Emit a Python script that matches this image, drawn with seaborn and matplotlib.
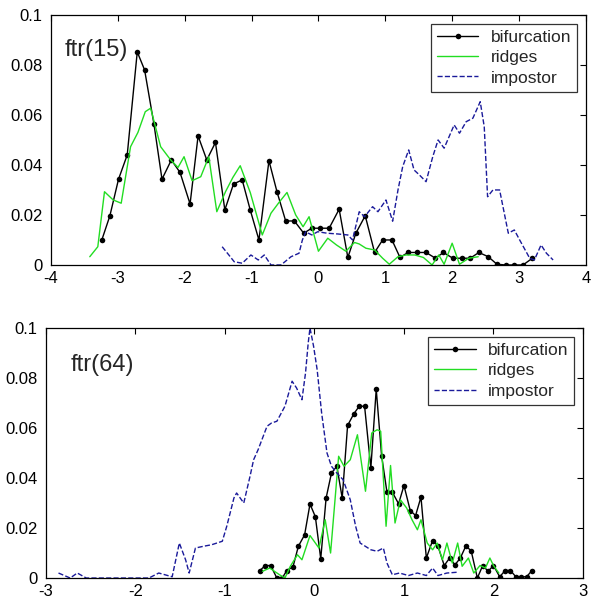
import seaborn as sns
import matplotlib
matplotlib.use("Agg")
import matplotlib.pyplot as plt

# ---- top panel: ftr(15) ----
top_bif_x = [-3.24, -3.12, -2.99, -2.86, -2.71, -2.60, -2.46, -2.34, -2.20, -2.07,
             -1.92, -1.80, -1.67, -1.54, -1.40, -1.27, -1.14, -1.02, -0.89, -0.74,
             -0.62, -0.49, -0.36, -0.22, -0.10, 0.03, 0.16, 0.31, 0.44, 0.56,
             0.70, 0.84, 0.96, 1.10, 1.22, 1.34, 1.48, 1.61, 1.75, 1.87,
             2.01, 2.15, 2.27, 2.40, 2.54, 2.67, 2.80, 2.93, 3.06, 3.20]
top_bif_y = [0.010, 0.0196, 0.0343, 0.044, 0.0852, 0.078, 0.0563, 0.0343, 0.042, 0.037,
             0.0244, 0.0516, 0.042, 0.049, 0.022, 0.0324, 0.034, 0.022, 0.010, 0.0417,
             0.0293, 0.0176, 0.0176, 0.0127, 0.0147, 0.0147, 0.0147, 0.0223, 0.003, 0.0127,
             0.0197, 0.005, 0.010, 0.010, 0.003, 0.005, 0.005, 0.005, 0.0027, 0.005,
             0.0027, 0.0027, 0.0027, 0.005, 0.0033, 0.0003, 0.0, 0.0, 0.0, 0.0027]

top_rid_x = [-3.42, -3.30, -3.20, -3.07, -2.95, -2.81, -2.70, -2.59, -2.51, -2.36,
             -2.21, -2.10, -2.01, -1.89, -1.76, -1.64, -1.52, -1.39, -1.28, -1.17,
             -1.02, -0.84, -0.71, -0.59, -0.47, -0.34, -0.23, -0.14, 0.0, 0.14,
             0.27, 0.41, 0.54, 0.61, 0.71, 0.84, 0.96, 1.06, 1.19, 1.31,
             1.44, 1.57, 1.70, 1.80, 1.88, 2.0, 2.11, 2.25, 2.39]
top_rid_y = [0.0033, 0.0073, 0.0293, 0.026, 0.0247, 0.0473, 0.053, 0.0613, 0.0627, 0.0473,
             0.042, 0.039, 0.0433, 0.0337, 0.0353, 0.0433, 0.0213, 0.0293, 0.035, 0.0397,
             0.029, 0.012, 0.0207, 0.025, 0.029, 0.020, 0.0153, 0.0193, 0.0055, 0.0107,
             0.008, 0.0055, 0.009, 0.0084, 0.0067, 0.006, 0.0027, 0.0003, 0.0033, 0.004,
             0.004, 0.003, 0.0, 0.004, 0.0003, 0.0087, 0.0003, 0.0027, 0.0033]

top_imp_x = [-1.44, -1.34, -1.26, -1.14, -1.01, -0.90, -0.81, -0.71, -0.56, -0.41,
             -0.29, -0.24, -0.19, -0.10, -0.01, 0.13, 0.29, 0.44, 0.51, 0.61,
             0.69, 0.81, 0.89, 1.01, 1.11, 1.19, 1.26, 1.35, 1.43, 1.51,
             1.61, 1.71, 1.79, 1.88, 2.03, 2.11, 2.21, 2.31, 2.42, 2.48,
             2.53, 2.61, 2.71, 2.84, 2.93, 3.01, 3.16, 3.23, 3.33, 3.41, 3.51]
top_imp_y = [0.0073, 0.004, 0.0013, 0.0007, 0.004, 0.002, 0.004, 0.0, 0.0, 0.0033,
             0.0047, 0.010, 0.0133, 0.012, 0.0133, 0.0127, 0.0124, 0.012, 0.010, 0.0213,
             0.0193, 0.0233, 0.0213, 0.026, 0.0175, 0.030, 0.0393, 0.046, 0.038, 0.036,
             0.0333, 0.0433, 0.050, 0.0467, 0.056, 0.0527, 0.0573, 0.0587, 0.0653, 0.0553,
             0.0273, 0.030, 0.030, 0.0127, 0.014, 0.010, 0.0027, 0.002, 0.008, 0.0047, 0.002]

# ---- bottom panel: ftr(64) ----
bot_bif_x = [-0.61, -0.55, -0.49, -0.42, -0.36, -0.31, -0.24, -0.18, -0.11, -0.05,
             0.01, 0.07, 0.13, 0.19, 0.25, 0.31, 0.37, 0.44, 0.50, 0.56,
             0.63, 0.69, 0.75, 0.81, 0.87, 0.94, 1.00, 1.07, 1.13, 1.19,
             1.25, 1.32, 1.38, 1.45, 1.51, 1.57, 1.63, 1.69, 1.75, 1.82,
             1.88, 1.94, 2.00, 2.07, 2.13, 2.19, 2.25, 2.31, 2.37, 2.43]
bot_bif_y = [0.003, 0.005, 0.005, 0.0, 0.0, 0.003, 0.0045, 0.0127, 0.0173, 0.0296,
             0.0245, 0.0077, 0.032, 0.042, 0.0447, 0.032, 0.061, 0.0657, 0.0687, 0.0687,
             0.044, 0.0755, 0.049, 0.0343, 0.0343, 0.0297, 0.037, 0.027, 0.025, 0.0324,
             0.008, 0.015, 0.0127, 0.005, 0.008, 0.0053, 0.008, 0.0127, 0.011, 0.0,
             0.005, 0.0027, 0.005, 0.0005, 0.003, 0.003, 0.0005, 0.0005, 0.0005, 0.003]

bot_rid_x = [-0.58, -0.50, -0.39, -0.33, -0.27, -0.19, -0.14, -0.05, 0.05, 0.12,
             0.18, 0.27, 0.33, 0.40, 0.48, 0.57, 0.64, 0.70, 0.74, 0.80,
             0.85, 0.90, 0.96, 1.03, 1.09, 1.15, 1.19, 1.26, 1.32, 1.37,
             1.43, 1.48, 1.54, 1.60, 1.65, 1.72, 1.78, 1.85, 1.91, 1.96, 2.00, 2.06]
bot_rid_y = [0.0027, 0.004, 0.0013, 0.0, 0.0047, 0.0093, 0.0073, 0.017, 0.012, 0.0233,
             0.010, 0.0487, 0.0447, 0.0473, 0.0573, 0.0347, 0.058, 0.0593, 0.0587, 0.0207,
             0.045, 0.022, 0.0313, 0.028, 0.0233, 0.0193, 0.0233, 0.014, 0.0113, 0.014,
             0.0073, 0.014, 0.006, 0.014, 0.0047, 0.008, 0.002, 0.005, 0.004, 0.008, 0.005, 0.002]

bot_imp_x = [-2.86, -2.73, -2.65, -2.55, -2.40, -2.20, -2.00, -1.85, -1.74, -1.67,
             -1.59, -1.51, -1.44, -1.40, -1.33, -1.24, -1.15, -1.03, -0.98, -0.90,
             -0.87, -0.79, -0.72, -0.68, -0.63, -0.53, -0.48, -0.42, -0.33, -0.25,
             -0.20, -0.14, -0.10, -0.07, -0.05, -0.01, 0.03, 0.08, 0.14, 0.19,
             0.25, 0.32, 0.40, 0.46, 0.51, 0.63, 0.70, 0.77, 0.81, 0.87,
             0.95, 1.05, 1.15, 1.25, 1.32, 1.38, 1.48, 1.59]
bot_imp_y = [0.002, 0.0, 0.002, 0.0, 0.0, 0.0, 0.0, 0.0, 0.002, 0.0013,
             0.0005, 0.014, 0.0073, 0.002, 0.012, 0.0127, 0.0133, 0.0147, 0.0207, 0.032,
             0.034, 0.030, 0.0407, 0.0473, 0.0513, 0.0607, 0.062, 0.0627, 0.0687, 0.0787,
             0.076, 0.0713, 0.082, 0.094, 0.1, 0.0927, 0.0833, 0.066, 0.050, 0.0447,
             0.042, 0.0393, 0.0313, 0.0207, 0.014, 0.0113, 0.0107, 0.012, 0.006, 0.0013,
             0.002, 0.001, 0.002, 0.001, 0.004, 0.001, 0.002, 0.0023]

y_ticks = [0, 0.02, 0.04, 0.06, 0.08, 0.1]
y_labels = ["0", "0.02", "0.04", "0.06", "0.08", "0.1"]

sns.set_style("white")
plt.rcParams["font.family"] = ["Liberation Sans", "DejaVu Sans"]

fig = plt.figure(figsize=(5.91, 6.04), dpi=100)
ax_top = fig.add_axes([0.0863, 0.5613, 0.905, 0.414])
ax_bot = fig.add_axes([0.0778, 0.0430, 0.9086, 0.414])


def draw_panel(ax, bif, rid, imp, xlim, label, label_pos):
    sns.lineplot(x=bif[0], y=bif[1], ax=ax, color="black", marker="o", markersize=4,
                 markeredgewidth=0, linewidth=1, sort=False, estimator=None, label="bifurcation")
    sns.lineplot(x=rid[0], y=rid[1], ax=ax, color="#22dd22", linewidth=1,
                 sort=False, estimator=None, label="ridges")
    sns.lineplot(x=imp[0], y=imp[1], ax=ax, color="#1a1a9a", linewidth=1, linestyle="--",
                 dashes=(3, 3), sort=False, estimator=None, label="impostor")
    ax.set_xlim(*xlim)
    ax.set_ylim(0, 0.1)
    ax.set_xticks(range(xlim[0], xlim[1] + 1))
    ax.set_xticklabels([str(v) for v in range(xlim[0], xlim[1] + 1)])
    ax.set_yticks(y_ticks)
    ax.set_yticklabels(y_labels)
    ax.tick_params(direction="in", length=4, width=0.8, top=True, right=True,
                   labelsize=12, colors="black")
    ax.tick_params(axis="x", pad=4)
    ax.tick_params(axis="y", pad=6)
    for s in ax.spines.values():
        s.set_visible(True)
        s.set_color("black")
        s.set_linewidth(0.9)
    ax.set_xlabel("")
    ax.set_ylabel("")
    ax.text(label_pos[0], label_pos[1], label, fontsize=17, va="center", ha="left")
    leg = ax.legend(loc="upper right", fontsize=12.5, frameon=True, fancybox=False,
                    handlelength=2.4, borderaxespad=0.5, labelspacing=0.3,
                    handletextpad=0.7, borderpad=0.35)
    leg.get_frame().set_edgecolor("black")
    leg.get_frame().set_linewidth(0.9)


draw_panel(ax_top, (top_bif_x, top_bif_y), (top_rid_x, top_rid_y), (top_imp_x, top_imp_y),
           (-4, 4), "ftr(15)", (-3.8, 0.086))
draw_panel(ax_bot, (bot_bif_x, bot_bif_y), (bot_rid_x, bot_rid_y), (bot_imp_x, bot_imp_y),
           (-3, 3), "ftr(64)", (-2.72, 0.085))

fig.savefig("out.png", dpi=100)
